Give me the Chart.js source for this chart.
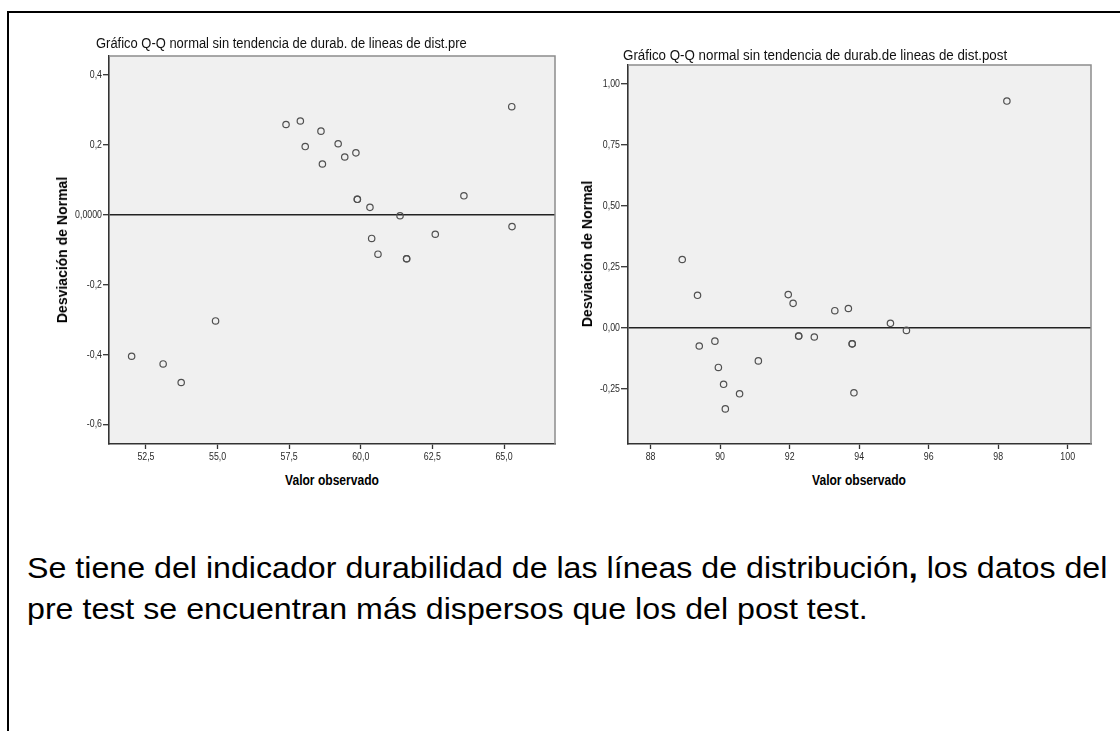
<!DOCTYPE html>
<html lang="es">
<head>
<meta charset="utf-8">
<title>Gráfico Q-Q normal sin tendencia</title>
<script src="https://cdn.jsdelivr.net/npm/chart.js@4.4.1/dist/chart.umd.min.js"></script>
<style>
  html, body { margin: 0; padding: 0; background: #fff; }
  body { width: 1120px; height: 731px; position: relative; overflow: hidden; font-family: "Liberation Sans", Arial, sans-serif; }
  .frame-top { position: absolute; left: 7px; top: 11px; width: 1113px; height: 2px; background: #000; }
  .frame-left { position: absolute; left: 7px; top: 11px; width: 2px; height: 720px; background: #000; }
  canvas { position: absolute; }
  .txt { position: absolute; white-space: nowrap; color: #000; line-height: 1; }
  .title { font-size: 14px; font-weight: normal; transform-origin: left center; color: #111; }
  .ylab { font-size: 14px; font-weight: bold; }
  .xlab { font-size: 14px; font-weight: bold; }
  .para { font-size: 30px; transform-origin: left center; color: #000; }
</style>
</head>
<body>
<div class="frame-top"></div>
<div class="frame-left"></div>

<canvas id="pre" width="520" height="430" style="left:45px; top:40px;"></canvas>
<canvas id="post" width="530" height="415" style="left:575px; top:55px;"></canvas>

<div class="txt title" data-w="371" style="left:96px; top:43px;">Gráfico Q-Q normal sin tendencia de durab. de lineas de dist.pre</div>
<div class="txt title" data-w="384" style="left:623px; top:55px;">Gráfico Q-Q normal sin tendencia de durab.de lineas de dist.post</div>

<div class="txt ylab" data-w="146" data-rot="1" style="left:62px; top:250px;">Desviación de Normal</div>
<div class="txt ylab" data-w="146" data-rot="1" style="left:587px; top:254px;">Desviación de Normal</div>

<div class="txt xlab" data-w="94" data-center="1" style="left:332px; top:480px;">Valor observado</div>
<div class="txt xlab" data-w="94" data-center="1" style="left:859px; top:480px;">Valor observado</div>

<div class="txt para" id="line1" style="left:27px; top:568px;">Se tiene del indicador durabilidad de las líneas de distribución<b>,</b> los datos del</div>
<div class="txt para" id="line2" style="left:27px; top:609px;">pre test se encuentran más dispersos que los del post test.</div>

<script>
// Pre test: observed durability values and their deviation from the normal line
const preObserved = [52.00, 53.10, 53.73, 54.93, 57.39, 57.89, 58.06, 58.61, 58.66, 59.21, 59.44, 59.83,
                     59.88, 59.88, 60.32, 60.38, 60.60, 61.37, 61.60, 61.60, 62.60, 63.60, 65.27, 65.28];
const preDeviation = [-0.405, -0.427, -0.480, -0.304, 0.258, 0.268, 0.195, 0.239, 0.145, 0.203, 0.165, 0.177,
                      0.044, 0.044, 0.021, -0.068, -0.113, -0.003, -0.126, -0.126, -0.056, 0.054, 0.309, -0.034];

// Post test
const postObserved = [88.91, 89.35, 89.40, 89.85, 89.95, 90.10, 90.15, 90.56, 91.10, 91.96, 92.10,
                      92.26, 92.26, 92.71, 93.30, 93.69, 93.80, 93.80, 93.85, 94.90, 95.36, 98.25];
const postDeviation = [0.280, 0.133, -0.075, -0.055, -0.163, -0.232, -0.333, -0.271, -0.136, 0.136, 0.100,
                       -0.034, -0.034, -0.038, 0.070, 0.079, -0.066, -0.066, -0.267, 0.018, -0.011, 0.930];

// Tick values and their labels (Spanish decimal comma)
const preXTicks = [52.5, 55, 57.5, 60, 62.5, 65];
const preXLabels = ['52,5', '55,0', '57,5', '60,0', '62,5', '65,0'];
const preYTicks = [-0.6, -0.4, -0.2, 0, 0.2, 0.4];
const preYLabels = ['-0,6', '-0,4', '-0,2', '0,0000', '0,2', '0,4'];

const postXTicks = [88, 90, 92, 94, 96, 98, 100];
const postXLabels = ['88', '90', '92', '94', '96', '98', '100'];
const postYTicks = [-0.25, 0, 0.25, 0.5, 0.75, 1];
const postYLabels = ['-0,25', '0,00', '0,25', '0,50', '0,75', '1,00'];

// Grey plot panel with a light frame on the top and right edges
const panelPlugin = {
  id: 'panel',
  beforeDraw(chart) {
    const a = chart.chartArea, ctx = chart.ctx;
    ctx.save();
    ctx.fillStyle = '#f0f0f0';
    ctx.fillRect(a.left, a.top, a.right - a.left, a.bottom - a.top);
    ctx.restore();
  },
  afterDraw(chart) {
    const a = chart.chartArea, ctx = chart.ctx;
    ctx.save();
    ctx.strokeStyle = '#8c8c8c';
    ctx.lineWidth = 1.5;
    ctx.beginPath();
    ctx.moveTo(a.left, a.top);
    ctx.lineTo(a.right, a.top);
    ctx.lineTo(a.right, a.bottom);
    ctx.stroke();
    ctx.restore();
  }
};

// Narrow tick labels placed at the scale's own tick positions
function tickLabelPlugin(cfg) {
  return {
    id: 'narrowTicks',
    afterDraw(chart) {
      const ctx = chart.ctx, sx = chart.scales.x, sy = chart.scales.y;
      ctx.save();
      ctx.fillStyle = '#2a2a2a';
      ctx.font = '11px "Liberation Sans", Arial, sans-serif';
      ctx.textAlign = 'center';
      ctx.textBaseline = 'middle';
      sx.ticks.forEach(t => {
        const label = cfg.xLabels[cfg.xTicks.indexOf(t.value)];
        ctx.save();
        ctx.translate(sx.getPixelForValue(t.value), sx.top + 13);
        ctx.scale(0.8, 1);
        ctx.fillText(label, 0, 0);
        ctx.restore();
      });
      ctx.textAlign = 'right';
      sy.ticks.forEach(t => {
        const label = cfg.yLabels[cfg.yTicks.indexOf(t.value)];
        ctx.save();
        ctx.translate(sy.right - cfg.tickLen - 1, sy.getPixelForValue(t.value));
        ctx.scale(0.8, 1);
        ctx.fillText(label, 0, 0);
        ctx.restore();
      });
      ctx.restore();
    }
  };
}

function qqChart(id, xs, ys, cfg) {
  const points = xs.map((x, i) => ({ x: x, y: ys[i] }));
  return new Chart(document.getElementById(id), {
    type: 'scatter',
    data: {
      datasets: [{
        data: points,
        pointRadius: 3.2,
        pointHoverRadius: 3.2,
        pointBorderWidth: 1.2,
        pointBackgroundColor: 'rgba(0,0,0,0)',
        pointBorderColor: '#505050'
      }]
    },
    options: {
      responsive: false,
      animation: false,
      devicePixelRatio: 1,
      events: [],
      layout: { padding: cfg.padding },
      plugins: { legend: { display: false }, tooltip: { enabled: false } },
      scales: {
        x: {
          type: 'linear',
          min: cfg.xMin, max: cfg.xMax,
          afterBuildTicks: s => { s.ticks = cfg.xTicks.map(v => ({ value: v })); },
          afterFit: s => { s.height = 26; },
          ticks: { display: false },
          grid: { drawOnChartArea: false, drawTicks: true, tickLength: 5, tickColor: '#333', tickWidth: 1.3 },
          border: { color: '#333', width: 1.6 }
        },
        y: {
          type: 'linear',
          min: cfg.yMin, max: cfg.yMax,
          afterBuildTicks: s => { s.ticks = cfg.yTicks.map(v => ({ value: v })); },
          afterFit: s => { s.width = cfg.yWidth; },
          ticks: { display: false },
          grid: {
            color: c => (c.tick && c.tick.value === 0) ? '#222' : 'rgba(0,0,0,0)',
            lineWidth: 1.4,
            drawTicks: true,
            tickLength: cfg.tickLen, tickColor: '#333', tickWidth: 1.3
          },
          border: { color: '#333', width: 1.6 }
        }
      }
    },
    plugins: [panelPlugin, tickLabelPlugin(cfg)]
  });
}

qqChart('pre', preObserved, preDeviation, {
  padding: { top: 16, right: 10, left: 0, bottom: 0 },
  xMin: 51.21, xMax: 66.78, yMin: -0.656, yMax: 0.454,
  xTicks: preXTicks, xLabels: preXLabels, yTicks: preYTicks, yLabels: preYLabels,
  yWidth: 64, tickLen: 6
});

qqChart('post', postObserved, postDeviation, {
  padding: { top: 10, right: 14, left: 0, bottom: 0 },
  xMin: 87.35, xMax: 100.67, yMin: -0.477, yMax: 1.078,
  xTicks: postXTicks, xLabels: postXLabels, yTicks: postYTicks, yLabels: postYLabels,
  yWidth: 53, tickLen: 7
});

// Fit the text blocks to their set widths; both paragraph lines share one scale
function fitTexts() {
  document.querySelectorAll('.txt[data-w]').forEach(el => {
    el.style.transform = '';
    const s = parseFloat(el.dataset.w) / el.offsetWidth;
    if (el.dataset.rot) {
      el.style.transform = 'translate(-50%,-50%) rotate(-90deg) scaleX(' + s + ')';
    } else if (el.dataset.center) {
      el.style.transform = 'translate(-50%,-50%) scaleX(' + s + ')';
    } else {
      el.style.transform = 'translateY(-50%) scaleX(' + s + ')';
    }
  });
  const l1 = document.getElementById('line1'), l2 = document.getElementById('line2');
  const ps = 1080 / l1.offsetWidth;
  l1.style.transform = 'translateY(-50%) scaleX(' + ps + ')';
  l2.style.transform = 'translateY(-50%) scaleX(' + ps + ')';
}
fitTexts();
if (document.fonts && document.fonts.ready) document.fonts.ready.then(fitTexts);
</script>
</body>
</html>
